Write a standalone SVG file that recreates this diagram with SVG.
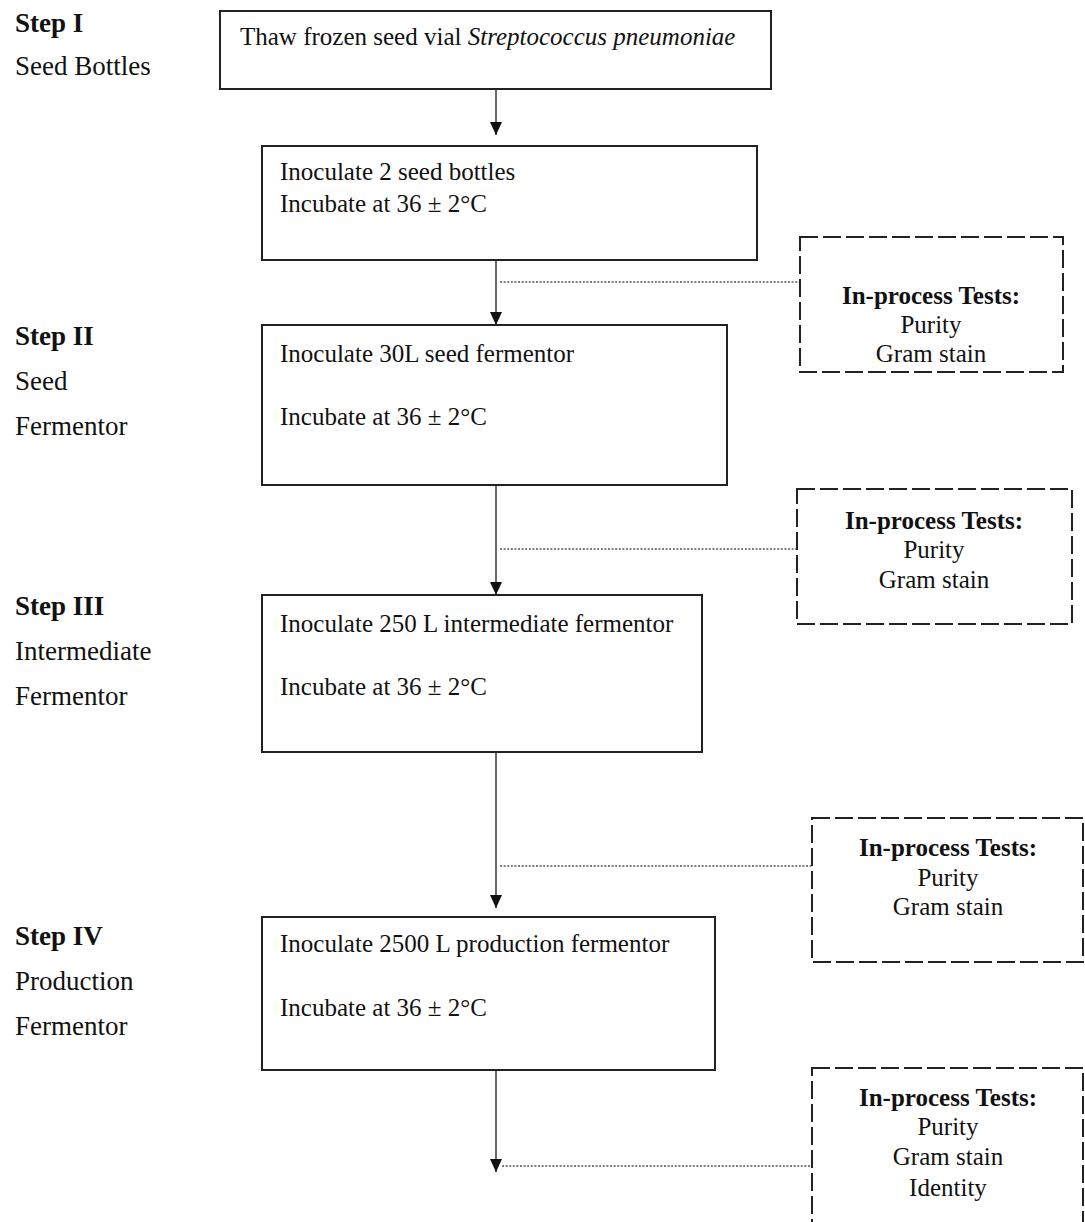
<svg xmlns="http://www.w3.org/2000/svg" width="1085" height="1222" viewBox="0 0 1085 1222">
  <style>
    .lbl { font-family: "Liberation Serif", "Times New Roman", serif; font-size: 27px; fill: #111; }
    .lbl-b { font-family: "Liberation Serif", "Times New Roman", serif; font-size: 27px; font-weight: bold; fill: #111; }
    .txt { font-family: "Liberation Serif", "Times New Roman", serif; font-size: 25px; fill: #111; }
    .tst { font-family: "Liberation Serif", "Times New Roman", serif; font-size: 25px; fill: #111; text-anchor: middle; }
    .tst-b { font-weight: bold; }
    .box { fill: #fff; stroke: #222; stroke-width: 2; }
    .dbox { fill: #fff; stroke: #222; stroke-width: 2; stroke-dasharray: 18 5; }
    .flow { stroke: #444; stroke-width: 1.6; fill: none; }
    .dot { stroke: #555; stroke-width: 1.3; stroke-dasharray: 2 1.6; fill: none; }
  </style>
  <defs>
    <!-- filled triangular head, drawn along +x so orient="auto" points it down the line -->
    <marker id="arrow" markerWidth="13" markerHeight="12" refX="13" refY="6" orient="auto" markerUnits="userSpaceOnUse" viewBox="0 0 13 12">
      <path d="M0,0 L13,6 L0,12 Z" fill="#111"/>
    </marker>
  </defs>

  <rect width="1085" height="1222" fill="#fff"/>

  <!-- step labels -->
  <g id="step1">
    <text class="lbl-b" x="15" y="32">Step I</text>
    <text class="lbl" x="15" y="75">Seed Bottles</text>
  </g>
  <g id="step2">
    <text class="lbl-b" x="15" y="345">Step II</text>
    <text class="lbl" x="15" y="390">Seed</text>
    <text class="lbl" x="15" y="435">Fermentor</text>
  </g>
  <g id="step3">
    <text class="lbl-b" x="15" y="615">Step III</text>
    <text class="lbl" x="15" y="660">Intermediate</text>
    <text class="lbl" x="15" y="705">Fermentor</text>
  </g>
  <g id="step4">
    <text class="lbl-b" x="15" y="945">Step IV</text>
    <text class="lbl" x="15" y="990">Production</text>
    <text class="lbl" x="15" y="1035">Fermentor</text>
  </g>

  <!-- connectors -->
  <g id="connectors">
    <line class="flow" x1="496" y1="89" x2="496" y2="135" marker-end="url(#arrow)"/>
    <line class="flow" x1="496" y1="260" x2="496" y2="325" marker-end="url(#arrow)"/>
    <line class="flow" x1="496" y1="485" x2="496" y2="595" marker-end="url(#arrow)"/>
    <line class="flow" x1="496" y1="752" x2="496" y2="908" marker-end="url(#arrow)"/>
    <line class="flow" x1="496" y1="1070" x2="496" y2="1172" marker-end="url(#arrow)"/>
    <line class="dot" x1="500" y1="282" x2="800" y2="282"/>
    <line class="dot" x1="500" y1="549" x2="797" y2="549"/>
    <line class="dot" x1="500" y1="866" x2="812" y2="866"/>
    <line class="dot" x1="502" y1="1166" x2="812" y2="1166"/>
  </g>

  <!-- process boxes -->
  <g id="thaw">
    <rect class="box" x="220" y="11" width="551" height="78"/>
    <text class="txt" x="240" y="45">Thaw frozen seed vial <tspan font-style="italic">Streptococcus pneumoniae</tspan></text>
  </g>
  <g id="seed-bottles">
    <rect class="box" x="262" y="146" width="495" height="114"/>
    <text class="txt" x="280" y="180">Inoculate 2 seed bottles</text>
    <text class="txt" x="280" y="212">Incubate at 36 ± 2°C</text>
  </g>
  <g id="seed-fermentor">
    <rect class="box" x="262" y="325" width="465" height="160"/>
    <text class="txt" x="280" y="362">Inoculate 30L seed fermentor</text>
    <text class="txt" x="280" y="425">Incubate at 36 ± 2°C</text>
  </g>
  <g id="intermediate-fermentor">
    <rect class="box" x="262" y="595" width="440" height="157"/>
    <text class="txt" x="280" y="632">Inoculate 250 L intermediate fermentor</text>
    <text class="txt" x="280" y="695">Incubate at 36 ± 2°C</text>
  </g>
  <g id="production-fermentor">
    <rect class="box" x="262" y="917" width="453" height="153"/>
    <text class="txt" x="280" y="952">Inoculate 2500 L production fermentor</text>
    <text class="txt" x="280" y="1016">Incubate at 36 ± 2°C</text>
  </g>

  <!-- in-process test boxes -->
  <g id="tests1">
    <rect class="dbox" x="800" y="237" width="263" height="135"/>
    <text class="tst tst-b" x="931" y="304">In-process Tests:</text>
    <text class="tst" x="931" y="333">Purity</text>
    <text class="tst" x="931" y="362">Gram stain</text>
  </g>
  <g id="tests2">
    <rect class="dbox" x="797" y="489" width="275" height="135"/>
    <text class="tst tst-b" x="934" y="529">In-process Tests:</text>
    <text class="tst" x="934" y="558">Purity</text>
    <text class="tst" x="934" y="588">Gram stain</text>
  </g>
  <g id="tests3">
    <rect class="dbox" x="812" y="818" width="271" height="144"/>
    <text class="tst tst-b" x="948" y="856">In-process Tests:</text>
    <text class="tst" x="948" y="886">Purity</text>
    <text class="tst" x="948" y="915">Gram stain</text>
  </g>
  <g id="tests4">
    <rect class="dbox" x="812" y="1068" width="271" height="170"/>
    <text class="tst tst-b" x="948" y="1106">In-process Tests:</text>
    <text class="tst" x="948" y="1135">Purity</text>
    <text class="tst" x="948" y="1165">Gram stain</text>
    <text class="tst" x="948" y="1196">Identity</text>
  </g>
</svg>
